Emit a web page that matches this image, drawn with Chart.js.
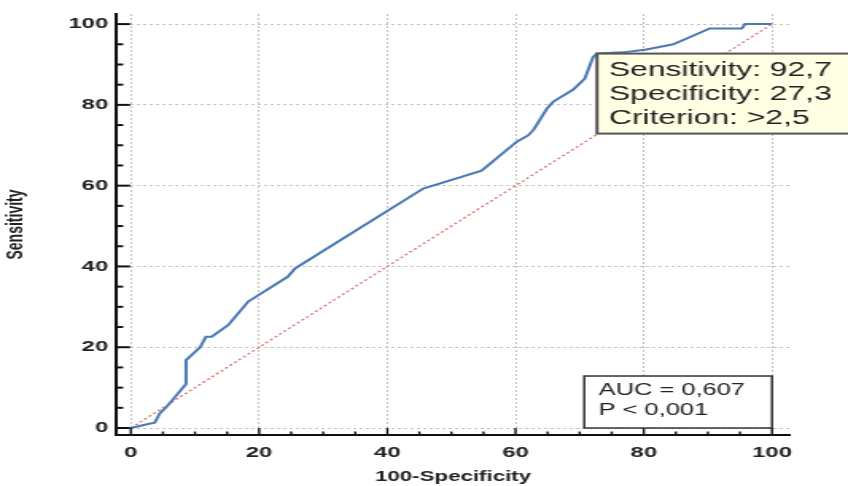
<!DOCTYPE html>
<html>
<head>
<meta charset="utf-8">
<script src="https://cdn.jsdelivr.net/npm/chart.js@4.4.0/dist/chart.umd.min.js"></script>
<style>
  html, body { margin: 0; padding: 0; background: #fff; overflow: hidden; }
  /* the original picture is stretched sideways, so draw narrow and stretch */
  #wrap { width: 533px; height: 486px; transform: scaleX(1.591); transform-origin: 0 0; }
</style>
</head>
<body>
<div id="wrap"><canvas id="roc" width="533" height="486"></canvas></div>
<script>
// ROC curve, values
const fpr = [0, 2.7, 3.7, 4.5, 5.6, 8.6, 8.6, 10.8, 11.7, 12.6, 15.2, 18.3, 24.5, 25.6, 45.6, 54.7, 60.2, 62.0, 62.8, 64.9, 65.9, 69.0, 70.8, 72.1, 72.7, 76.8, 80.4, 84.6, 90.3, 95.3, 95.8, 100];
const tpr = [0, 1.0, 1.3, 3.6, 5.3, 10.9, 16.8, 20.0, 22.6, 22.6, 25.5, 31.3, 37.5, 39.5, 59.3, 63.7, 70.9, 72.5, 73.8, 79.1, 80.8, 83.8, 86.5, 91.9, 92.7, 93.0, 93.7, 95.0, 98.9, 98.9, 100, 100];
const refLine = [0, 100];
const tickValues = [0, 20, 40, 60, 80, 100];

const criterionFpr = 72.7;
const criterionTpr = 92.7;
const criterionLines = ['Sensitivity: 92,7', 'Specificity: 27,3', 'Criterion: >2,5'];
const aucLines = ['AUC = 0,607', 'P < 0,001'];

const fontName = '"Liberation Sans", Arial, sans-serif';
Chart.defaults.font.family = fontName;

const rocExtras = {
  id: 'rocExtras',
  afterDraw(chart) {
    const { ctx, chartArea: a, scales: { x, y } } = chart;
    ctx.save();
    ctx.strokeStyle = '#111';
    // tick marks pointing inward
    for (let v = 0; v <= 100; v += 5) {
      const major = v % 20 === 0;
      const py = y.getPixelForValue(v);
      ctx.lineWidth = 2;
      ctx.beginPath();
      ctx.moveTo(a.left, py);
      ctx.lineTo(a.left + (major ? 8.8 : 4.4), py);
      ctx.stroke();
      const px = x.getPixelForValue(v);
      ctx.lineWidth = 1.4;
      ctx.beginPath();
      ctx.moveTo(px, a.bottom);
      ctx.lineTo(px, a.bottom - (major ? 7 : 3.5));
      ctx.stroke();
    }

    // criterion box, corner on the point
    const bx = x.getPixelForValue(criterionFpr);
    const by = y.getPixelForValue(criterionTpr);
    const bw = chart.width - bx + 6;
    ctx.fillStyle = '#ffffe4';
    ctx.fillRect(bx, by, bw, 80);
    ctx.strokeStyle = '#555';
    ctx.lineWidth = 2;
    ctx.strokeRect(bx, by, bw, 80);
    ctx.fillStyle = '#222';
    ctx.font = '20px ' + fontName;
    ctx.textBaseline = 'middle';
    criterionLines.forEach((t, i) => ctx.fillText(t, bx + 7.5, by + 17 + i * 24));

    // AUC box bottom right
    const rx = x.getPixelForValue(100);
    const ry = y.getPixelForValue(0);
    ctx.fillStyle = '#fff';
    ctx.fillRect(rx - 118, ry - 52, 118, 52);
    ctx.strokeStyle = '#333';
    ctx.lineWidth = 1.5;
    ctx.strokeRect(rx - 118, ry - 52, 118, 52);
    ctx.fillStyle = '#222';
    ctx.font = '16px ' + fontName;
    aucLines.forEach((t, i) => ctx.fillText(t, rx - 109, ry - 37 + i * 20));
    ctx.restore();
  }
};

const ctx = document.getElementById('roc');
new Chart(ctx, {
  type: 'scatter',
  data: {
    datasets: [
      {
        data: fpr.map((v, i) => ({ x: v, y: tpr[i] })),
        showLine: true,
        borderColor: '#4a7ab4',
        borderWidth: 2,
        pointRadius: 0,
        order: 1
      },
      {
        data: refLine.map(v => ({ x: v, y: v })),
        showLine: true,
        borderColor: '#d86a6a',
        borderWidth: 1.2,
        borderDash: [2, 2],
        pointRadius: 0,
        order: 2
      }
    ]
  },
  options: {
    responsive: false,
    animation: false,
    events: [],
    layout: { padding: { left: 0, top: 14, right: 36.5, bottom: 0 } },
    plugins: { legend: { display: false }, tooltip: { enabled: false } },
    scales: {
      x: {
        type: 'linear',
        min: -2.3,
        max: 102.8,
        afterBuildTicks: s => { s.ticks = tickValues.map(v => ({ value: v })); },
        afterFit: s => { s.height = 51; },
        grid: { color: '#c4c4c4', drawTicks: false },
        border: { color: '#111', width: 2, dash: [2, 2] },
        ticks: { padding: 9, color: '#222', font: { size: 15, weight: 'bold' } },
        title: { display: true, text: '100-Specificity', color: '#222', font: { size: 14, weight: 'bold' }, padding: { top: 0, bottom: 0 } }
      },
      y: {
        type: 'linear',
        min: -1.73,
        max: 102.5,
        afterBuildTicks: s => { s.ticks = tickValues.map(v => ({ value: v })); },
        afterFit: s => { s.width = 73; },
        grid: { color: '#c4c4c4', drawTicks: false },
        border: { color: '#111', width: 2, dash: [2, 2] },
        ticks: { padding: 5, color: '#222', font: { size: 15, weight: 'bold' } },
        title: { display: true, text: 'Sensitivity', color: '#222', font: { size: 14, weight: 'bold' }, padding: { top: 2, bottom: 0 } }
      }
    }
  },
  plugins: [rocExtras]
});
</script>
</body>
</html>
